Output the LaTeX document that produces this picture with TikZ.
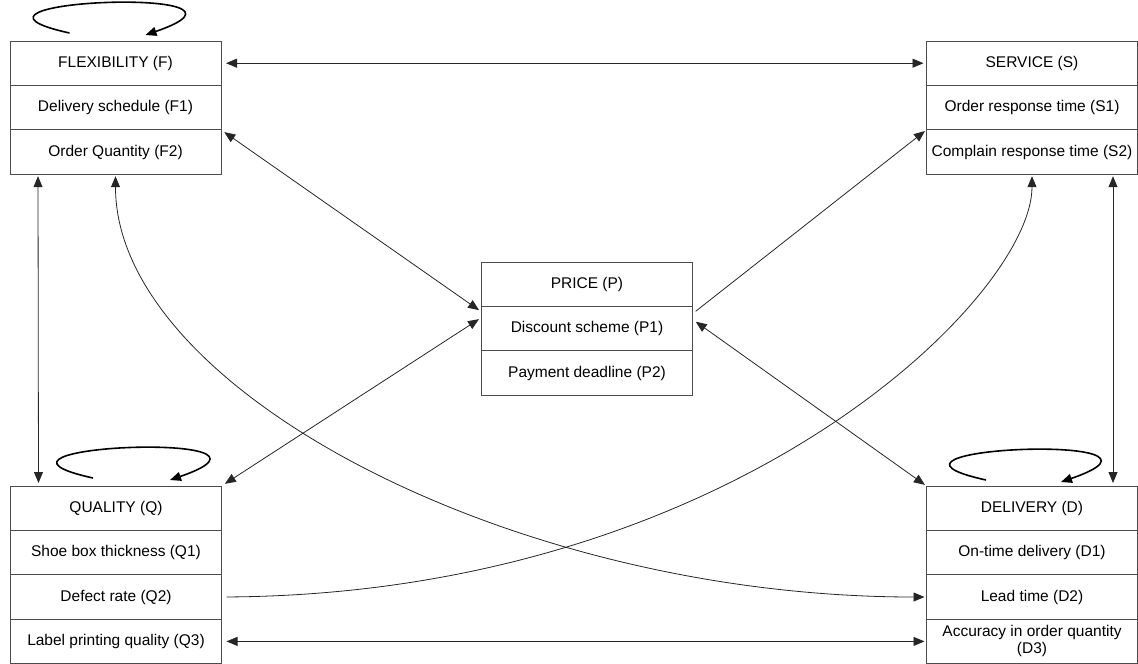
\documentclass[tikz,border=0pt]{standalone}
\usepackage{fontspec}
\setmainfont{Liberation Sans}
\usetikzlibrary{arrows.meta,positioning,calc}

\begin{document}
\begin{tikzpicture}[x=1pt,y=-1pt,>={Triangle[length=11pt,width=9pt]},
  cell/.style={draw=black!70,line width=0.8pt,minimum width=211pt,minimum height=44.4pt,
    inner sep=2pt,outer sep=0pt,align=center,font=\fontsize{15.5pt}{17pt}\selectfont},
  link/.style={line width=0.8pt,black!85},
  selfloop/.style={->,line width=1.6pt,black}]
  \useasboundingbox (0,0) rectangle (1138,664);
  % Flexibility
  \node[cell]                    (F)  at (115.5,63.2) {FLEXIBILITY (F)};
  \node[cell, below=0pt of F]    (F1) {Delivery schedule (F1)};
  \node[cell, below=0pt of F1]   (F2) {Order Quantity (F2)};
  % Service
  \node[cell]                    (S)  at (1032,63.2) {SERVICE (S)};
  \node[cell, below=0pt of S]    (S1) {Order response time (S1)};
  \node[cell, below=0pt of S1]   (S2) {Complain response time (S2)};
  % Price
  \node[cell]                    (P)  at (587,284.2) {PRICE (P)};
  \node[cell, below=0pt of P]    (P1) {Discount scheme (P1)};
  \node[cell, below=0pt of P1]   (P2) {Payment deadline (P2)};
  % Quality
  \node[cell]                    (Q)  at (116,508.2) {QUALITY (Q)};
  \node[cell, below=0pt of Q]    (Q1) {Shoe box thickness (Q1)};
  \node[cell, below=0pt of Q1]   (Q2) {Defect rate (Q2)};
  \node[cell, below=0pt of Q2]   (Q3) {Label printing quality (Q3)};
  % Delivery
  \node[cell]                    (D)  at (1032,508.2) {DELIVERY (D)};
  \node[cell, below=0pt of D]    (D1) {On-time delivery (D1)};
  \node[cell, below=0pt of D1]   (D2) {Lead time (D2)};
  \node[cell, below=0pt of D2]   (D3) {Accuracy in order quantity\\(D3)};

  % Self loops
  \draw[selfloop] ($(F.north)+(-46,-8)$) .. controls +(-150,-33) and +(145,-50) .. ($(F.north)+(30,-6)$);
  \draw[selfloop] ($(Q.north)+(-23,-8)$) .. controls +(-150,-33) and +(145,-50) .. ($(Q.north)+(54,-6)$);
  \draw[selfloop] ($(D.north)+(-46,-6)$) .. controls +(-150,-33) and +(145,-50) .. ($(D.north)+(29,-4)$);

  % Connecting edges
  \draw[link,<->,shorten <=5pt,shorten >=3pt] (F) -- (S);
  \draw[link,<->,shorten <=4pt,shorten >=3pt] (F1.south east) -- (P1.171);
  \draw[link,<->,shorten <=4pt,shorten >=3pt] (Q.north east) -- (P1.174);
  \draw[link,->,shorten <=4pt,shorten >=2pt] (P1.8) -- (S1.south west);
  \draw[link,<->,shorten <=4pt,shorten >=2pt] (P1.5) -- (D.north west);
  \draw[link,<->,shorten <=2pt,shorten >=3pt] ([xshift=28pt]F2.south west) -- ([xshift=28pt]Q.north west);
  \draw[link,<->,shorten <=2pt,shorten >=3pt] ([xshift=-24.5pt]S2.south east) -- ([xshift=-24.5pt]D.north east);
  \draw[link,<->,shorten <=2pt,shorten >=2pt] (F2.south) .. controls +(0,215) and +(-415,0) .. (D2.west);
  \draw[link,->,shorten <=5pt,shorten >=2pt] (Q2.east) .. controls +(513,-3) and +(0,122) .. (S2.south);
  \draw[link,<->,shorten <=5pt,shorten >=2pt] (Q3) -- (D3);
\end{tikzpicture}
\end{document}
